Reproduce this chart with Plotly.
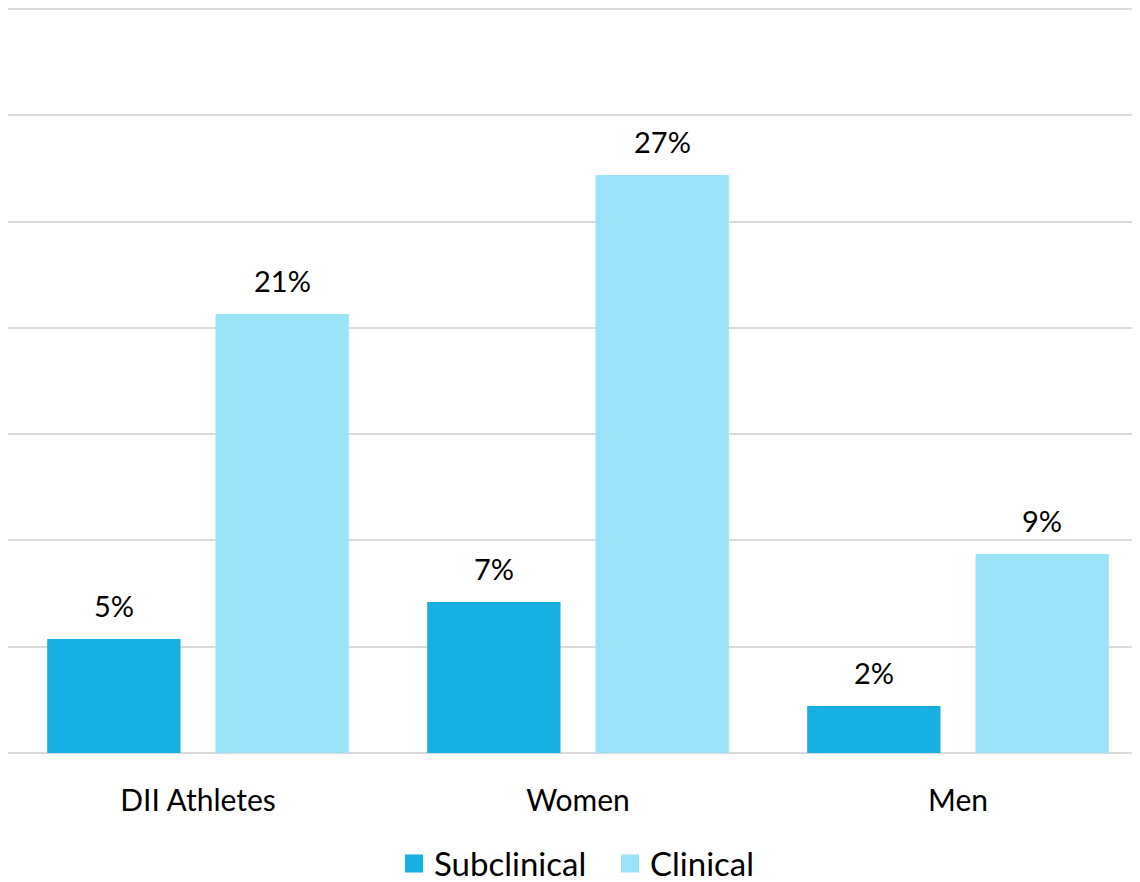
import plotly.graph_objects as go

categories = ["DII Athletes", "Women", "Men"]
subclinical = [0.0536, 0.0710, 0.0221]
clinical = [0.2065, 0.2719, 0.0936]
series_names = ["Subclinical", "Clinical"]
colors = ["#18B0E3", "#99E2F8"]

fig = go.Figure()
for i, (name, vals, col) in enumerate(zip(series_names, [subclinical, clinical], colors)):
    fig.add_trace(go.Bar(
        x=categories, y=vals, name=name, marker_color=col, marker_line_width=0,
        showlegend=False, offsetgroup=str(i),
    ))
    # legend-only proxy with larger square swatch
    fig.add_trace(go.Scatter(
        x=[None], y=[None], mode="markers", name=name,
        marker=dict(symbol="square", size=20, color=col, line=dict(color=col, width=2)),
        showlegend=True,
    ))

# data labels positioned via the axes' scales
for i, vals in enumerate([subclinical, clinical]):
    for cat, v in zip(categories, vals):
        fig.add_annotation(
            x=cat, y=v, text=f"{round(v*100)}%", showarrow=False,
            xref="x", yref="y", yanchor="bottom", yshift=14,
            xshift=(-84 if i == 0 else 84),
            font=dict(size=29, color="#000000"),
        )

# page body has an 8px margin; margins compensate so the plot sits as in the reference
fig.update_layout(
    width=1140, height=874,
    margin=dict(l=0, r=0, t=0, b=129, autoexpand=False),
    paper_bgcolor="white", plot_bgcolor="white",
    barmode="group", bargap=0.114, bargroupgap=0.208,
    font=dict(family="Lato, 'Open Sans', sans-serif", color="#000000"),
    showlegend=True,
    legend=dict(orientation="h", x=0.3386, xanchor="left", y=-0.1483, yanchor="middle",
                font=dict(size=33), itemwidth=30, traceorder="normal", entrywidth=171,
                entrywidthmode="pixels"),
)
fig.update_xaxes(showgrid=False, showline=False, ticks="", tickfont=dict(size=30), ticklabelstandoff=27)
fig.update_yaxes(range=[0, 0.3505], dtick=0.05, showticklabels=False, showgrid=True,
                 gridcolor="#D9D9D9", gridwidth=2, zeroline=True, zerolinecolor="#D9D9D9",
                 zerolinewidth=2, showline=False)

fig.write_html("out.html")
